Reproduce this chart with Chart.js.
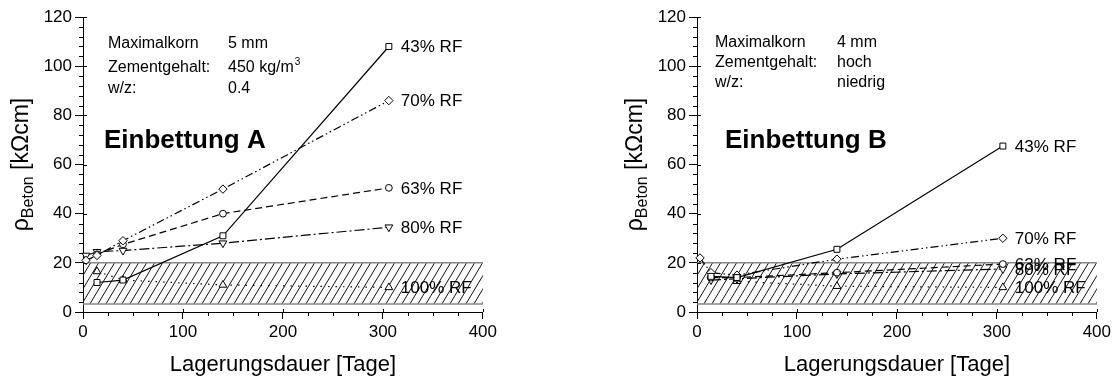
<!DOCTYPE html>
<html><head><meta charset="utf-8">
<script src="https://cdn.jsdelivr.net/npm/chart.js@4.4.1/dist/chart.umd.min.js"></script>
<style>
html,body{margin:0;padding:0;background:#fff;width:1114px;height:379px;overflow:hidden}
.box{position:absolute;top:0;width:500px;height:379px}
</style></head><body>
<div class="box" style="left:0"><canvas id="cA" width="500" height="379"></canvas></div>
<div class="box" style="left:614px"><canvas id="cB" width="500" height="379"></canvas></div>
<script>
// ---------- data ----------
const days = [3, 14, 40, 140, 306];
const seriesNames = ['43% RF', '70% RF', '63% RF', '80% RF', '100% RF'];
// Einbettung A
const rhoA43  = [null, 12, 13, 31, 108];
const rhoA70  = [21, 23, 29, 50, 86];
const rhoA63  = [null, 23.5, 27.5, 40, 50.5];
const rhoA80  = [23, 24.5, 25, 28, 34.5];
const rhoA100 = [null, 16.5, 13, 11, 10];
// Einbettung B
const rhoB43  = [null, 14.5, 14, 25.5, 67.5];
const rhoB70  = [22, 16, 15, 21.5, 30];
const rhoB63  = [null, 14, 14, 16, 19.5];
const rhoB80  = [null, 13, 13.5, 15.5, 17.5];
const rhoB100 = [null, 15, 12.5, 10.5, 10];
// axes
const xTicks = [0, 100, 200, 300, 400];
const yTicks = [0, 20, 40, 60, 80, 100, 120];
const bandRange = [3.3, 20];
const xTitle = 'Lagerungsdauer [Tage]';
const infoA = [['Maximalkorn', '5 mm', ''], ['Zementgehalt:', '450 kg/m', '3'], ['w/z:', '0.4', '']];
const infoB = [['Maximalkorn', '4 mm', ''], ['Zementgehalt:', 'hoch', ''], ['w/z:', 'niedrig', '']];

// ---------- styles ----------
const FONT = '"Liberation Sans", Arial, sans-serif';
const styles = [
  {dash: [], pt: 'rect', r: 4.2, rot: 0},
  {dash: [8, 3, 1.5, 3, 1.5, 3], pt: 'rectRot', r: 4.2, rot: 0},
  {dash: [7, 4], pt: 'circle', r: 3.4, rot: 0},
  {dash: [10, 3, 2, 3], pt: 'triangle', r: 4.5, rot: 180},
  {dash: [1.5, 6], pt: 'triangle', r: 4.5, rot: 0}
];

function toPts(vals) {
  return days.map((d, i) => ({x: d, y: vals[i]})).filter(p => p.y !== null);
}

function makeDeco(info, bigLabel, layout) {
  return {
    id: 'deco',
    beforeDatasetsDraw(chart) {
      const {ctx, scales: {x, y}} = chart;
      const x0 = x.getPixelForValue(0), x1 = x.getPixelForValue(400);
      const yt = y.getPixelForValue(bandRange[1]), yb = y.getPixelForValue(bandRange[0]);
      ctx.save();
      ctx.beginPath(); ctx.rect(x0, yt, x1 - x0, yb - yt); ctx.clip();
      ctx.strokeStyle = '#111'; ctx.lineWidth = 1;
      const h = yb - yt, k = 0.6;
      ctx.beginPath();
      for (let sx = x0 - h; sx < x1 + 10; sx += 8) { ctx.moveTo(sx, yb); ctx.lineTo(sx + h * k, yt); }
      ctx.stroke(); ctx.restore();
      ctx.save(); ctx.strokeStyle = '#888'; ctx.lineWidth = 1.5;
      ctx.beginPath(); ctx.moveTo(x0, yt); ctx.lineTo(x1, yt); ctx.moveTo(x0, yb); ctx.lineTo(x1, yb); ctx.stroke();
      ctx.restore();
    },
    afterDraw(chart) {
      const {ctx, chartArea: ca, scales: {x, y}} = chart;
      ctx.save();
      ctx.strokeStyle = '#000'; ctx.lineWidth = 1;
      ctx.beginPath();
      for (let v = 0; v <= 120; v += 4) {
        const py = Math.round(y.getPixelForValue(v)) + 0.5;
        if (v % 20 === 0) { ctx.moveTo(ca.left, py); ctx.lineTo(ca.left + 4, py); }
        else { ctx.moveTo(ca.left - 4, py); ctx.lineTo(ca.left, py); }
      }
      for (let v = 0; v <= 400; v += 25) {
        const px = Math.round(x.getPixelForValue(v)) + 0.5;
        if (v % 100 === 0) { ctx.moveTo(px, ca.bottom); ctx.lineTo(px, ca.bottom - 3); }
        else { ctx.moveTo(px, ca.bottom); ctx.lineTo(px, ca.bottom + 4); }
      }
      ctx.stroke();
      ctx.fillStyle = '#000';
      // x title
      ctx.font = '22px ' + FONT; ctx.textAlign = 'center'; ctx.textBaseline = 'alphabetic';
      ctx.fillText(xTitle, (ca.left + ca.right) / 2, 371);
      // y title
      ctx.save();
      ctx.translate(28, (ca.top + ca.bottom) / 2); ctx.rotate(-Math.PI / 2);
      ctx.textAlign = 'left';
      const fMain = '23px ' + FONT, fSub = '16px ' + FONT;
      ctx.font = fMain; const w1 = ctx.measureText('\u03C1').width, w3 = ctx.measureText(' [k\u03A9cm]').width;
      ctx.font = fSub; const w2 = ctx.measureText('Beton').width;
      let sx = -(w1 + w2 + w3) / 2;
      ctx.font = fMain; ctx.fillText('\u03C1', sx, 0); sx += w1;
      ctx.font = fSub; ctx.fillText('Beton', sx, 5); sx += w2;
      ctx.font = fMain; ctx.fillText(' [k\u03A9cm]', sx, 0);
      ctx.restore();
      // info block
      ctx.textAlign = 'left'; ctx.textBaseline = 'alphabetic';
      info.forEach((row, i) => {
        const by = layout.infoY[i];
        ctx.font = '16px ' + FONT;
        ctx.fillText(row[0], layout.infoX1, by);
        ctx.fillText(row[1], layout.infoX2, by);
        if (row[2]) {
          const w = ctx.measureText(row[1]).width;
          ctx.font = '10px ' + FONT;
          ctx.fillText(row[2], layout.infoX2 + w + 1, by - 7);
        }
      });
      ctx.font = 'bold 26px ' + FONT;
      ctx.fillText(bigLabel, layout.bigX, 148);
      // series labels
      ctx.font = '17px ' + FONT; ctx.textBaseline = 'middle';
      chart.data.datasets.forEach((ds, i) => {
        const last = ds.data[ds.data.length - 1];
        ctx.fillText(seriesNames[i], x.getPixelForValue(last.x) + 12, y.getPixelForValue(last.y) + 1);
      });
      ctx.restore();
    }
  };
}

function makeChart(id, seriesVals, info, bigLabel, layout) {
  const datasets = seriesVals.map((vals, i) => ({
    label: seriesNames[i],
    data: toPts(vals),
    borderColor: '#000', borderWidth: 1.2, borderDash: styles[i].dash,
    pointStyle: styles[i].pt, pointRadius: styles[i].r, pointRotation: styles[i].rot,
    pointBackgroundColor: '#fff', pointBorderColor: '#000', pointBorderWidth: 1,
    tension: 0, fill: false, clip: false
  }));
  return new Chart(document.getElementById(id), {
    type: 'line',
    data: {datasets},
    options: {
      responsive: false, animation: false,
      layout: {padding: {top: 17, right: 15, left: 0, bottom: 0}},
      plugins: {legend: {display: false}, tooltip: {enabled: false}},
      scales: {
        x: {
          type: 'linear', min: 0, max: 400,
          afterBuildTicks: s => { s.ticks = xTicks.map(v => ({value: v})); },
          afterFit: s => { s.height = 67; },
          grid: {display: true, drawOnChartArea: false, drawTicks: true, tickLength: 7, color: '#000', lineWidth: 1},
          border: {display: true, color: '#000', width: 1},
          ticks: {color: '#000', font: {family: FONT, size: 17}, padding: 3, maxRotation: 0}
        },
        y: {
          type: 'linear', min: 0, max: 120,
          afterBuildTicks: s => { s.ticks = yTicks.map(v => ({value: v})); },
          afterFit: s => { s.width = 83; },
          grid: {display: true, drawOnChartArea: false, drawTicks: true, tickLength: 8, color: '#000', lineWidth: 1},
          border: {display: true, color: '#000', width: 1},
          ticks: {color: '#000', font: {family: FONT, size: 17}, padding: 3}
        }
      }
    },
    plugins: [makeDeco(info, bigLabel, layout)]
  });
}

makeChart('cA', [rhoA43, rhoA70, rhoA63, rhoA80, rhoA100], infoA, 'Einbettung A',
  {infoX1: 108, infoX2: 228, infoY: [48, 72, 93], bigX: 104});
makeChart('cB', [rhoB43, rhoB70, rhoB63, rhoB80, rhoB100], infoB, 'Einbettung B',
  {infoX1: 101, infoX2: 223, infoY: [47, 67, 87], bigX: 111});
</script>
</body></html>
